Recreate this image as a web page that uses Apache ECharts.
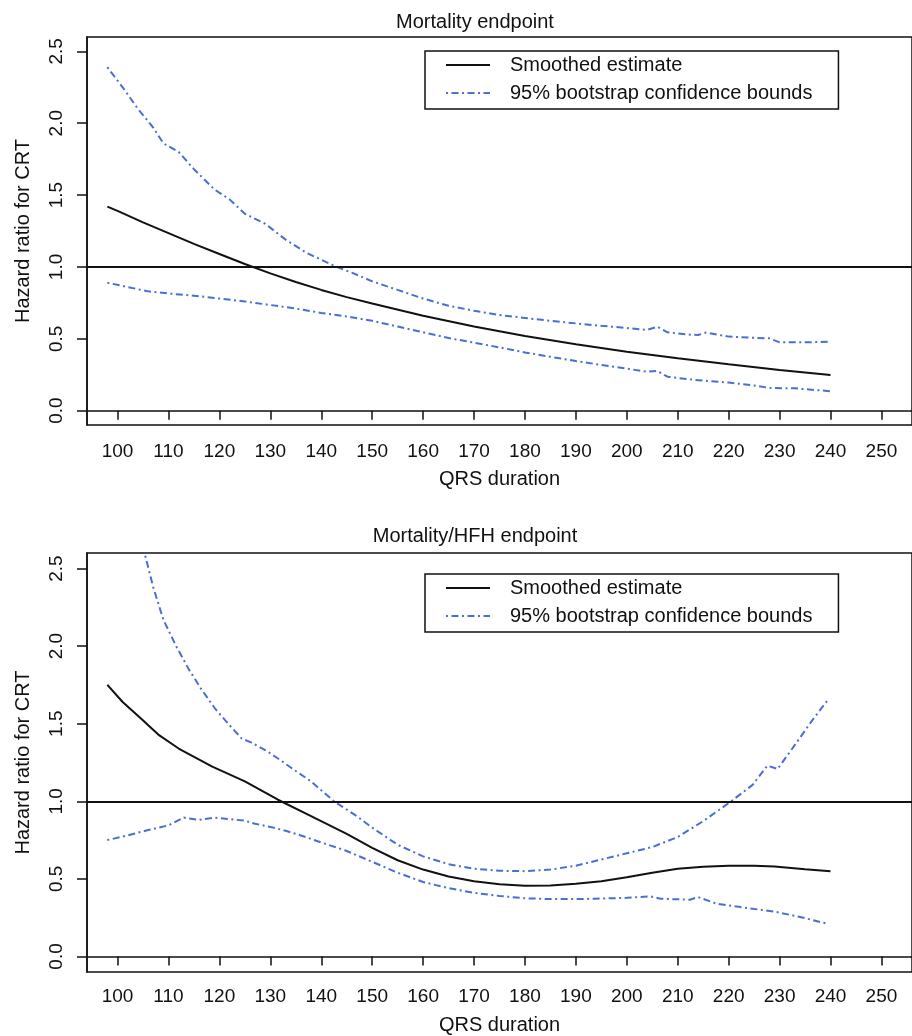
<!DOCTYPE html>
<html>
<head>
<meta charset="utf-8">
<script src="https://cdn.jsdelivr.net/npm/echarts@6/dist/echarts.min.js"></script>
<style>
html,body{margin:0;padding:0;background:#fff;}
#chart{width:912px;height:1036px;}
</style>
</head>
<body>
<div id="chart"></div>
<script>
// ---- tick labels ----
const xTicks = [100,110,120,130,140,150,160,170,180,190,200,210,220,230,240,250];
const yTicks = [0,0.5,1,1.5,2,2.5];
const refLineValue = 1.0;

// ---- Panel 1: Mortality endpoint ----
const topTitle = 'Mortality endpoint';
const topEstX = [98,100,105,110,115,120,125,130,135,140,145,150,160,170,180,190,200,210,220,230,240];
const topEstY = [1.42,1.39,1.31,1.235,1.16,1.09,1.02,0.955,0.895,0.84,0.79,0.745,0.66,0.585,0.52,0.462,0.41,0.365,0.322,0.283,0.248];
const topUpX = [98,101,104,107,109,112,115,119,122,125,129,133,137,140,143,146,150,155,160,165,170,175,180,185,190,195,200,204,206,208,212,214,215.5,220,224,228,230,235,240];
const topUpY = [2.39,2.25,2.10,1.97,1.86,1.80,1.68,1.54,1.47,1.37,1.30,1.19,1.10,1.05,1.00,0.96,0.90,0.84,0.78,0.73,0.695,0.665,0.645,0.625,0.607,0.59,0.575,0.562,0.584,0.545,0.53,0.526,0.543,0.515,0.508,0.503,0.475,0.475,0.48];
const topLoX = [98,102,106,110,115,120,125,130,135,140,145,150,155,160,165,170,175,180,185,190,195,200,204,206,208,213,220,225,228,233,240];
const topLoY = [0.89,0.86,0.83,0.815,0.80,0.78,0.76,0.735,0.71,0.68,0.655,0.625,0.585,0.545,0.505,0.473,0.44,0.405,0.375,0.345,0.318,0.292,0.271,0.276,0.236,0.215,0.195,0.175,0.158,0.155,0.135];

// ---- Panel 2: Mortality/HFH endpoint ----
const botTitle = 'Mortality/HFH endpoint';
const botEstX = [98,101,104.7,108,112,118.6,125,131.5,138,145,150,155,160,165,170,175,180,185,190,195,200,205,210,215,220,225,229,235,240];
const botEstY = [1.75,1.64,1.53,1.43,1.34,1.223,1.128,1.01,0.904,0.79,0.70,0.62,0.56,0.515,0.485,0.465,0.455,0.458,0.468,0.485,0.51,0.54,0.565,0.578,0.585,0.584,0.58,0.562,0.549];
const botUpX = [98,101,103,105.3,107,109,111.5,114,116.5,119.2,122,124.4,126.3,129,131.5,135,138,142.5,147,150,155,160,165,170,175,180,185,190,195,200,205,210,215,220.5,224.7,227.6,229.6,232.5,236.4,239.6];
const botUpY = [3.9,3.3,2.95,2.6,2.38,2.17,2.0,1.85,1.72,1.595,1.49,1.404,1.378,1.33,1.276,1.195,1.128,1.0,0.904,0.83,0.72,0.645,0.595,0.565,0.552,0.55,0.56,0.585,0.625,0.665,0.705,0.77,0.872,1.0,1.106,1.23,1.208,1.34,1.521,1.659];
const botLoX = [98,102,106,110,113,116,119,122,125,127,130,133,136,140,145,150,155,160,165,170,175,180,185,190,193.7,200,204.7,206.6,212.4,214,217.6,222,229.3,234,239.6];
const botLoY = [0.75,0.78,0.815,0.845,0.895,0.88,0.895,0.885,0.875,0.855,0.835,0.81,0.78,0.735,0.68,0.61,0.54,0.48,0.44,0.41,0.39,0.375,0.37,0.37,0.372,0.378,0.387,0.372,0.366,0.383,0.34,0.32,0.287,0.255,0.209];

const estName = 'Smoothed estimate';
const ciName = '95% bootstrap confidence bounds';
const xName = 'QRS duration';
const yName = 'Hazard ratio for CRT';

// ---- styling ----
const FONT = '"Liberation Sans", Arial, Helvetica, sans-serif';
const BLUE = '#4a6fd2';
const DASHDOT = [2, 3.5, 7, 3.5];

function pairs(xs, ys){ return xs.map((x,i)=>[x, ys[i]]); }

function xAxisFor(gi, labelMargin, nameGap){
  return {
    type:'value', gridIndex:gi, min:94, max:256,
    name:xName, nameLocation:'middle', nameGap:nameGap,
    nameTextStyle:{fontFamily:FONT,fontSize:20,color:'#111'},
    axisLine:{show:true,lineStyle:{color:'#111',width:1.5}},
    axisTick:{show:true,length:9,customValues:xTicks,lineStyle:{color:'#111',width:1.5}},
    axisLabel:{show:true,customValues:xTicks,margin:labelMargin,fontFamily:FONT,fontSize:19,color:'#111'},
    splitLine:{show:false}
  };
}
function yAxisFor(gi){
  return {
    type:'value', gridIndex:gi, min:-0.1, max:2.6,
    name:yName, nameLocation:'middle', nameGap:54, nameRotate:90,
    nameTextStyle:{fontFamily:FONT,fontSize:20,color:'#111'},
    axisLine:{show:true,lineStyle:{color:'#111',width:1.5}},
    axisTick:{show:true,length:10,customValues:yTicks,lineStyle:{color:'#111',width:1.5}},
    axisLabel:{show:true,customValues:yTicks,rotate:90,margin:21,fontFamily:FONT,fontSize:19,color:'#111',
      formatter:v=>Number(v).toFixed(1)},
    splitLine:{show:false}
  };
}
function panelSeries(gi, est, up, lo){
  return [
    {name:estName,type:'line',xAxisIndex:gi,yAxisIndex:gi,data:est,showSymbol:false,symbol:'none',
     smooth:false,lineStyle:{color:'#111',width:2},itemStyle:{color:'#111'},
     markLine:{silent:true,symbol:['none','none'],label:{show:false},
       lineStyle:{color:'#111',width:2,type:'solid'},data:[{yAxis:refLineValue}]}},
    {name:ciName,type:'line',xAxisIndex:gi,yAxisIndex:gi,data:up,showSymbol:false,symbol:'none',
     lineStyle:{color:BLUE,width:2,type:DASHDOT},itemStyle:{color:BLUE}},
    {name:ciName,type:'line',xAxisIndex:gi,yAxisIndex:gi,data:lo,showSymbol:false,symbol:'none',
     lineStyle:{color:BLUE,width:2,type:DASHDOT},itemStyle:{color:BLUE}}
  ];
}
function legendAt(top){
  return {
    show:true, orient:'vertical', left:425, top:top,
    data:[estName, ciName], selectedMode:false,
    itemWidth:44, itemHeight:14, itemGap:8,
    padding:[4,26,6,20],
    borderColor:'#111', borderWidth:1.5, backgroundColor:'#fff',
    itemStyle:{opacity:0},
    textStyle:{fontFamily:FONT,fontSize:20,color:'#111',padding:[0,0,0,15]}
  };
}

const chart = echarts.init(document.getElementById('chart'), null, {renderer:'canvas'});
chart.setOption({
  animation:false,
  backgroundColor:'#fff',
  title:[
    {text:topTitle,left:475,textAlign:'center',top:12,padding:0,
     textStyle:{fontFamily:FONT,fontSize:20,fontWeight:'normal',color:'#111'}},
    {text:botTitle,left:475,textAlign:'center',top:526,padding:0,
     textStyle:{fontFamily:FONT,fontSize:20,fontWeight:'normal',color:'#111'}}
  ],
  legend:[legendAt(51), legendAt(574)],
  grid:[
    {left:87,top:37,width:834,height:388,show:true,borderColor:'#111',borderWidth:1.5,backgroundColor:'transparent'},
    {left:87,top:553,width:834,height:423,show:true,borderColor:'#111',borderWidth:1.5,backgroundColor:'transparent'}
  ],
  xAxis:[xAxisFor(0, 17, 44), xAxisFor(1, 15, 43)],
  yAxis:[yAxisFor(0), yAxisFor(1)],
  series:[].concat(
    panelSeries(0, pairs(topEstX,topEstY), pairs(topUpX,topUpY), pairs(topLoX,topLoY)),
    panelSeries(1, pairs(botEstX,botEstY), pairs(botUpX,botUpY), pairs(botLoX,botLoY))
  )
});
</script>
</body>
</html>
